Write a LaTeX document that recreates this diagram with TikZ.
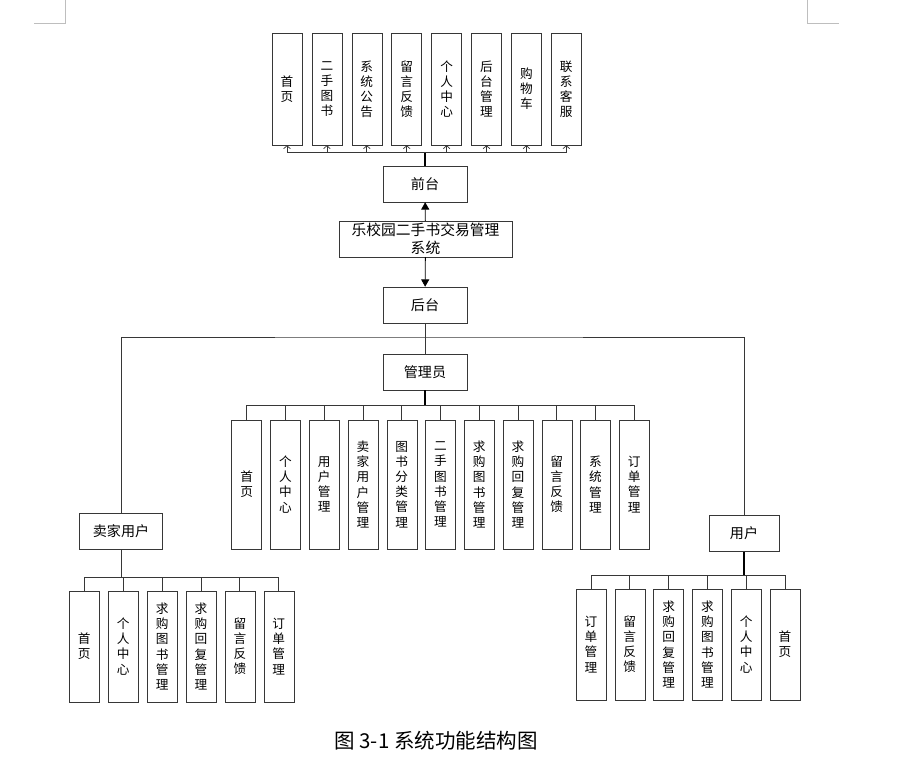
\documentclass[tikz,border=0pt]{standalone}
\usepackage{fontspec}
\usetikzlibrary{positioning,arrows.meta,calc}
\newfontfamily\cjk{Noto Sans CJK SC}
\definecolor{linegray}{RGB}{55,55,55}
\definecolor{markgray}{RGB}{190,190,190}
\tikzset{
  box/.style={draw=linegray, align=center, inner sep=0pt, font=\cjk\fontsize{12}{14}\selectfont, minimum width=2.52cm, minimum height=1.08cm},
  leaf/.style={draw=linegray, align=center, inner sep=0pt, font=\cjk\fontsize{10.8}{12.9}\selectfont, minimum width=0.9cm},
  link/.style={linegray, line width=0.7pt},
  trunk/.style={black, line width=1.3pt},
  tip/.style={-{Straight Barb[length=0.9mm,width=2mm]}, linegray, line width=0.6pt},
  arrow/.style={-{Triangle[length=2.2mm,width=2.4mm]}, black, line width=0.7pt}
}

\begin{document}
\begin{tikzpicture}[x=0.03cm, y=-0.03cm]
        \useasboundingbox (0,0) rectangle (898,761);
        % page corner marks
        \draw[markgray, line width=0.6pt] (65,0) -- (65,23) -- (34,23);
        \draw[markgray, line width=0.6pt] (807,0) -- (807,23) -- (839,23);
        % centre column
        \node[box] (front) at (425,184) {前台};
        \node[box, minimum width=5.19cm, font=\cjk\fontsize{12.6}{15.4}\selectfont] (sys) at (425.5,239) {乐校园二手书交易管理\\系统};
        \node[box] (back) at (425,305) {后台};
        \node[box] (admin) at (425,372) {管理员};
        \node[box, minimum width=2.49cm] (seller) at (121,531.5) {卖家用户};
        \node[box, minimum width=2.1cm] (user) at (744,533.5) {用户};
        \draw[arrow] (sys) -- (front);
        \draw[arrow] (sys) -- (back);
        \coordinate (split) at (425,337);
        \draw[link] (back) -- (admin);
        \draw[link] (seller.north) |- (split) -| (user.north);
        % front leaves
        \foreach \t [count=\i from 0] in {{首\\页},{二\\手\\图\\书},{系\\统\\公\\告},{留\\言\\反\\馈},{个\\人\\中\\心},{后\\台\\管\\理},{购\\物\\车},{联\\系\\客\\服}}
          {\node[leaf, minimum height=3.36cm] (t\i) at ({287+39.9*\i},89) {\t};}
        \coordinate (tbus) at (425,152.7);
        \draw[trunk] (front) -- (tbus);
        \draw[link] (t0.south |- tbus) -- (t7.south |- tbus);
        \foreach \i in {0,...,7}{\draw[tip] (t\i.south |- tbus) -- (t\i.south);}
        % admin leaves
        \foreach \t [count=\i from 0] in {{首\\页},{个\\人\\中\\心},{用\\户\\管\\理},{卖\\家\\用\\户\\管\\理},{图\\书\\分\\类\\管\\理},{二\\手\\图\\书\\管\\理},{求\\购\\图\\书\\管\\理},{求\\购\\回\\复\\管\\理},{留\\言\\反\\馈},{系\\统\\管\\理},{订\\单\\管\\理}}
          {\node[leaf, minimum height=3.87cm] (a\i) at ({246.7+38.76*\i},484.5) {\t};}
        \coordinate (abus) at (425,405);
        \draw[trunk] (admin) -- (abus);
        \draw[link] (a0.north |- abus) -- (a10.north |- abus);
        \foreach \i in {0,...,10}{\draw[link] (a\i.north |- abus) -- (a\i.north);}
        % seller leaves
        \foreach \t [count=\i from 0] in {{首\\页},{个\\人\\中\\心},{求\\购\\图\\书\\管\\理},{求\\购\\回\\复\\管\\理},{留\\言\\反\\馈},{订\\单\\管\\理}}
          {\node[leaf, minimum height=3.33cm] (s\i) at ({84.3+38.9*\i},646.5) {\t};}
        \coordinate (sbus) at (121,577.7);
        \draw[link] (seller) -- (sbus);
        \draw[link] (s0.north |- sbus) -- (s5.north |- sbus);
        \foreach \i in {0,...,5}{\draw[link] (s\i.north |- sbus) -- (s\i.north);}
        % user leaves
        \foreach \t [count=\i from 0] in {{订\\单\\管\\理},{留\\言\\反\\馈},{求\\购\\回\\复\\管\\理},{求\\购\\图\\书\\管\\理},{个\\人\\中\\心},{首\\页}}
          {\node[leaf, minimum height=3.33cm] (u\i) at ({591+38.8*\i},644.5) {\t};}
        \coordinate (ubus) at (744,575);
        \draw[trunk] (user) -- (ubus);
        \draw[link] (u0.north |- ubus) -- (u5.north |- ubus);
        \foreach \i in {0,...,5}{\draw[link] (u\i.north |- ubus) -- (u\i.north);}
        % caption
        \node[font=\cjk\fontsize{17.5}{20}\selectfont] (cap) at (436,741) {图 3-1 系统功能结构图};
      \end{tikzpicture}
\end{document}
